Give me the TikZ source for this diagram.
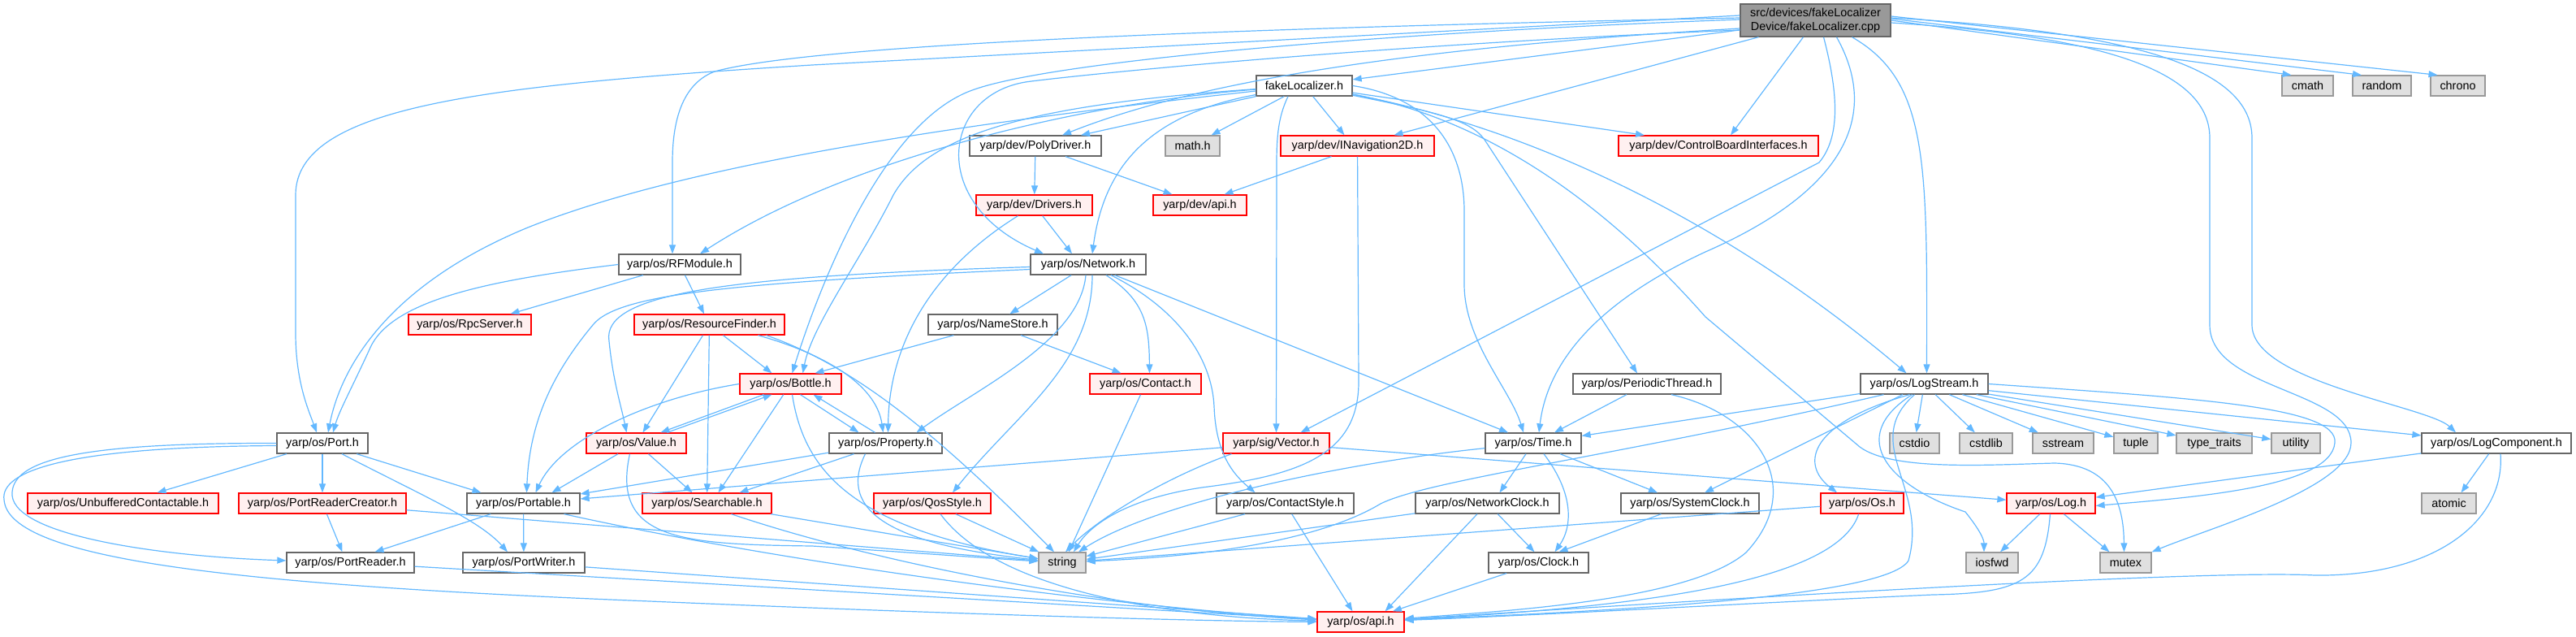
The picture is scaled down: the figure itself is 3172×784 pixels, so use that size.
\documentclass[tikz,border=0pt]{standalone}
\usepackage{fontspec}
\setmainfont{Liberation Sans}
\usepackage{tikz}
\usetikzlibrary{arrows.meta}
\usepackage{xcolor}
\definecolor{edgeblue}{HTML}{63B8FF}
\definecolor{hdrline}{HTML}{666666}
\definecolor{incline}{HTML}{FF0000}
\definecolor{incfill}{HTML}{FFF0F0}
\definecolor{sysline}{HTML}{999999}
\definecolor{sysfill}{HTML}{E0E0E0}
\definecolor{rootfill}{HTML}{999999}

\begin{document}
\begin{tikzpicture}[x=1pt,y=-1pt,>={Triangle[length=11pt,width=8pt]},
  every node/.style={font=\fontsize{14.4}{17}\selectfont,minimum height=25pt,inner sep=0pt},
  hdr/.style={draw=hdrline,fill=white,line width=1.3pt},
  inc/.style={draw=incline,fill=incfill,line width=1.3pt},
  sys/.style={draw=sysline,fill=sysfill,line width=1.3pt},
  root/.style={draw=hdrline,fill=rootfill,line width=1.3pt,align=center,minimum height=40pt},
  dep/.style={->,draw=edgeblue,line width=1.2pt}]
  \useasboundingbox (0,0) rectangle (3172,784);
  \node (cpp) [root,minimum width=185] at (2235.5,25) {src/devices/fakeLocalizer\\Device/fakeLocalizer.cpp};
  \node (fl) [hdr,minimum width=118] at (1606,105.5) {fakeLocalizer.h};
  \node (cmath) [sys,minimum width=63] at (2841.5,105.5) {cmath};
  \node (random) [sys,minimum width=72] at (2933,105.5) {random};
  \node (chrono) [sys,minimum width=67] at (3026.5,105.5) {chrono};
  \node (polydrv) [hdr,minimum width=162] at (1275,179.5) {yarp/dev/PolyDriver.h};
  \node (mathh) [sys,minimum width=67] at (1468.5,179.5) {math.h};
  \node (inav) [inc,minimum width=189] at (1671.5,179.5) {yarp/dev/INavigation2D.h};
  \node (cbi) [inc,minimum width=246] at (2116,179.5) {yarp/dev/ControlBoardInterfaces.h};
  \node (drivers) [inc,minimum width=143] at (1273.5,252.5) {yarp/dev/Drivers.h};
  \node (devapi) [inc,minimum width=115] at (1477.5,252.5) {yarp/dev/api.h};
  \node (rfmod) [hdr,minimum width=150] at (837,325.5) {yarp/os/RFModule.h};
  \node (net) [hdr,minimum width=142] at (1340,325.5) {yarp/os/Network.h};
  \node (rpc) [inc,minimum width=151] at (578.5,399.5) {yarp/os/RpcServer.h};
  \node (rf) [inc,minimum width=185] at (873.5,399.5) {yarp/os/ResourceFinder.h};
  \node (names) [hdr,minimum width=159] at (1222.5,399.5) {yarp/os/NameStore.h};
  \node (bottle) [inc,minimum width=125] at (973.5,472.5) {yarp/os/Bottle.h};
  \node (contact) [inc,minimum width=137] at (1410.5,472.5) {yarp/os/Contact.h};
  \node (pthread) [hdr,minimum width=182] at (2028,472.5) {yarp/os/PeriodicThread.h};
  \node (lstream) [hdr,minimum width=157] at (2369.5,472.5) {yarp/os/LogStream.h};
  \node (port) [hdr,minimum width=112] at (397,545.5) {yarp/os/Port.h};
  \node (value) [inc,minimum width=123] at (783.5,545.5) {yarp/os/Value.h};
  \node (prop) [hdr,minimum width=139] at (1090.5,545.5) {yarp/os/Property.h};
  \node (vector) [inc,minimum width=131] at (1571.5,545.5) {yarp/sig/Vector.h};
  \node (time) [hdr,minimum width=118] at (1888,545.5) {yarp/os/Time.h};
  \node (cstdio) [sys,minimum width=61] at (2357.5,545.5) {cstdio};
  \node (cstdlib) [sys,minimum width=65] at (2445.5,545.5) {cstdlib};
  \node (sstream) [sys,minimum width=75] at (2540.5,545.5) {sstream};
  \node (tuple) [sys,minimum width=54] at (2630,545.5) {tuple};
  \node (traits) [sys,minimum width=93] at (2726.5,545.5) {type\_traits};
  \node (utility) [sys,minimum width=60] at (2827,545.5) {utility};
  \node (logcomp) [hdr,minimum width=184] at (3074,545.5) {yarp/os/LogComponent.h};
  \node (unbuf) [inc,minimum width=235] at (151.5,619.5) {yarp/os/UnbufferedContactable.h};
  \node (prc) [inc,minimum width=206] at (397,619.5) {yarp/os/PortReaderCreator.h};
  \node (portable) [hdr,minimum width=139] at (644.5,619.5) {yarp/os/Portable.h};
  \node (search) [inc,minimum width=159] at (870.5,619.5) {yarp/os/Searchable.h};
  \node (qos) [inc,minimum width=144] at (1148,619.5) {yarp/os/QosStyle.h};
  \node (cstyle) [hdr,minimum width=169] at (1582.5,619.5) {yarp/os/ContactStyle.h};
  \node (nclock) [hdr,minimum width=177] at (1831.5,619.5) {yarp/os/NetworkClock.h};
  \node (sclock) [hdr,minimum width=170] at (2081,619.5) {yarp/os/SystemClock.h};
  \node (os) [inc,minimum width=102] at (2293,619.5) {yarp/os/Os.h};
  \node (log) [inc,minimum width=109] at (2525.5,619.5) {yarp/os/Log.h};
  \node (atomic) [sys,minimum width=67] at (3015.5,619.5) {atomic};
  \node (preader) [hdr,minimum width=157] at (431.5,692.5) {yarp/os/PortReader.h};
  \node (pwriter) [hdr,minimum width=150] at (645,692.5) {yarp/os/PortWriter.h};
  \node (string) [sys,minimum width=58] at (1308,692.5) {string};
  \node (clock) [hdr,minimum width=123] at (1894.5,692.5) {yarp/os/Clock.h};
  \node (iosfwd) [sys,minimum width=64] at (2453,692.5) {iosfwd};
  \node (mutex) [sys,minimum width=63] at (2617.5,692.5) {mutex};
  \node (api) [inc,minimum width=107] at (1675.5,765.5) {yarp/os/api.h};

  \draw[dep] (cpp) -- (fl);
  \draw[dep] (cpp.east) -- ([xshift=-20]cmath.north);
  \draw[dep] ([yshift=2]cpp.east) -- ([xshift=-25]random.north);
  \draw[dep] ([yshift=5]cpp.east) -- ([xshift=-25]chrono.north);
  \draw[dep] ([yshift=-10]cpp.west) .. controls (1800,55) and (1500,90) .. ([xshift=33]polydrv.north);
  \draw[dep] ([xshift=-70]cpp.south) -- ([xshift=45]inav.north);
  \draw[dep] ([xshift=-15]cpp.south) -- ([xshift=15]cbi.north);
  \draw[dep] ([yshift=-12]cpp.west) .. controls (1700,55) and (1350,90) .. (1270,100) .. controls (1160,112) and (1140,250) .. ([xshift=-55]net.north);
  \draw[dep] ([yshift=6]cpp.west) -- (1000,80) .. controls (600,105) and (364,130) .. (364,240) -- (364,410) .. controls (364,470) and (380,505) .. ([xshift=-7]port.north);
  \draw[dep] ([yshift=3]cpp.west) .. controls (1500,35) and (1000,55) .. (880,88) .. controls (835,105) and (828,160) .. (828,200) -- ([xshift=-9]rfmod.north);
  \draw[dep] ([yshift=1]cpp.west) .. controls (1700,40) and (1300,75) .. (1200,110) .. controls (1080,150) and (1000,380) .. ([xshift=2]bottle.north);
  \draw[dep] ([xshift=10]cpp.south) .. controls (2265,120) and (2265,170) .. (2240,200) -- ([xshift=30]vector.north);
  \draw[dep] ([xshift=26]cpp.south) .. controls (2320,150) and (2260,240) .. (2100,310) .. controls (1960,375) and (1905,450) .. ([xshift=7]time.north);
  \draw[dep] ([xshift=45]cpp.south) .. controls (2375,100) and (2373,200) .. ([xshift=3]lstream.north);
  \draw[dep] ([yshift=-3]cpp.east) .. controls (2600,45) and (2721,90) .. (2721,170) -- (2721,400) .. controls (2721,480) and (2895,480) .. (2895,545) .. controls (2895,600) and (2720,650) .. (mutex.north east);
  \draw[dep] ([yshift=3]cpp.east) .. controls (2650,40) and (2773,90) .. (2773,170) -- (2773,400) .. controls (2773,470) and (2990,500) .. ([xshift=-50]logcomp.north);

  \draw[dep] (fl) -- ([xshift=56]polydrv.north);
  \draw[dep] (fl) -- ([xshift=23]mathh.north);
  \draw[dep] (fl) -- ([xshift=-16]inav.north);
  \draw[dep] (fl) -- ([xshift=-91]cbi.north);
  \draw[dep] (fl) .. controls (1350,125) and (1050,190) .. ([xshift=25]rfmod.north);
  \draw[dep] (fl) .. controls (1200,150) and (850,200) .. (650,280) .. controls (480,350) and (420,450) .. ([xshift=7]port.north);
  \draw[dep] (fl) .. controls (1250,130) and (1140,170) .. (1100,240) .. controls (1060,320) and (1000,400) .. ([xshift=15]bottle.north);
  \draw[dep] (fl) .. controls (1420,140) and (1360,200) .. ([xshift=5]net.north);
  \draw[dep] ([xshift=-20]fl.south) .. controls (1576,140) and (1572,160) .. (1572,200) -- (vector);
  \draw[dep] (fl.east) .. controls (1760,120) and (1803,180) .. (1803,260) -- (1803,350) .. controls (1803,420) and (1860,480) .. ([xshift=-12]time.north);
  \draw[dep] (fl) .. controls (1780,140) and (1815,150) .. (1830,175) -- ([xshift=-12]pthread.north);
  \draw[dep] (fl) .. controls (1850,150) and (2100,250) .. ([xshift=-22]lstream.north);
  \draw[dep] (fl) .. controls (1800,140) and (1950,220) .. (2100,390) -- (2290,550) .. controls (2330,580) and (2450,572) .. (2530,570) .. controls (2600,572) and (2615,620) .. ([xshift=-2]mutex.north);

  \draw[dep] (polydrv) -- (drivers);
  \draw[dep] (polydrv) -- ([xshift=-34]devapi.north);
  \draw[dep] ([xshift=-32]inav.south) -- ([xshift=30]devapi.north);
  \draw[dep] (inav) -- (1673,470) .. controls (1673,560) and (1600,585) .. (1480,600) .. controls (1380,615) and (1340,650) .. ([xshift=14]string.north);
  \draw[dep] (drivers) -- ([xshift=-20]net.north);
  \draw[dep] ([xshift=-20]drivers.south) .. controls (1150,330) and (1095,420) .. ([xshift=3]prop.north);

  \draw[dep] (rfmod.west) .. controls (600,345) and (480,370) .. (455,430) .. controls (432,480) and (418,505) .. ([xshift=13]port.north);
  \draw[dep] (rfmod) -- ([xshift=50]rpc.north);
  \draw[dep] (rfmod) -- (rf);

  \draw[dep] (net) -- (names);
  \draw[dep] ([xshift=22]net.south) .. controls (1410,370) and (1415,400) .. ([xshift=5]contact.north);
  \draw[dep] (net) -- ([xshift=-31]time.north);
  \draw[dep] ([xshift=-3]net.south) .. controls (1330,420) and (1200,480) .. ([xshift=38]prop.north);
  \draw[dep] ([xshift=5]net.south) .. controls (1345,450) and (1250,510) .. ([xshift=25]qos.north);
  \draw[dep] ([xshift=28]net.south) .. controls (1450,380) and (1492,440) .. (1495,500) .. controls (1497,560) and (1520,585) .. ([xshift=-37]cstyle.north);
  \draw[dep] ([yshift=-3]net.west) .. controls (900,340) and (740,360) .. (750,420) .. controls (755,470) and (765,500) .. ([xshift=-12]value.north);
  \draw[dep] ([yshift=-6]net.west) .. controls (900,348) and (760,362) .. (730,400) .. controls (680,460) and (652,520) .. ([xshift=4]portable.north);

  \draw[dep] (rf) -- ([xshift=-23]bottle.north);
  \draw[dep] ([xshift=-8]rf.south) -- ([xshift=8]value.north);
  \draw[dep] (rf) -- (search);
  \draw[dep] ([xshift=60]rf.south) .. controls (1030,440) and (1080,480) .. ([xshift=-3]prop.north);
  \draw[dep] ([xshift=70]rf.south) .. controls (1050,450) and (1150,530) .. ([xshift=-10]string.north);
  \draw[dep] (names) -- ([xshift=30]bottle.north);
  \draw[dep] (names) -- ([xshift=-30]contact.north);
  \draw[dep] (contact) -- ([xshift=8]string.north);

  \draw[dep] ([xshift=-33]bottle.south) -- ([xshift=30]value.north);
  \draw[dep] ([xshift=38]value.north) -- ([xshift=-23]bottle.south);
  \draw[dep] ([xshift=12]bottle.south) -- ([xshift=-33]prop.north);
  \draw[dep] ([xshift=-13]prop.north) -- ([xshift=28]bottle.south);
  \draw[dep] (bottle) -- ([xshift=14]search.north);
  \draw[dep] (bottle) .. controls (990,580) and (1050,650) .. (string);
  \draw[dep] (bottle.west) .. controls (800,490) and (690,540) .. ([xshift=15]portable.north);
  \draw[dep] (value) -- ([xshift=35]portable.north);
  \draw[dep] (value) -- ([xshift=-18]search.north);
  \draw[dep] ([xshift=-8]value.south) .. controls (752,665) and (840,670) .. (1000,672) .. controls (1150,682) and (1230,688) .. (string);
  \draw[dep] (prop) -- ([xshift=40]search.north);
  \draw[dep] (prop) -- (portable);
  \draw[dep] ([xshift=-25]prop.south) .. controls (1030,630) and (1100,670) .. (string);

  \draw[dep] (vector) -- (portable);
  \draw[dep] ([xshift=-55]vector.south) .. controls (1430,590) and (1350,640) .. ([xshift=4]string.north);
  \draw[dep] (vector) -- (log);
  \draw[dep] (time) -- ([xshift=15]nclock.north);
  \draw[dep] (time) -- ([xshift=-40]sclock.north);
  \draw[dep] ([xshift=13]time.south) .. controls (1940,610) and (1935,650) .. ([xshift=20]clock.north);
  \draw[dep] (time) .. controls (1650,570) and (1420,620) .. ([xshift=20]string.north);
  \draw[dep] (pthread) -- ([xshift=26]time.north);
  \draw[dep] ([xshift=30]pthread.south) .. controls (2165,510) and (2225,600) .. (2150,680) .. controls (2080,740) and (1850,752) .. (api);

  \draw[dep] (lstream) -- (time);
  \draw[dep] (lstream) -- ([xshift=18]sclock.north);
  \draw[dep] ([xshift=-18]lstream.south) .. controls (2230,520) and (2215,570) .. ([xshift=-31]os.north);
  \draw[dep] ([xshift=-15]lstream.south) .. controls (2270,540) and (2330,600) .. (2420,630) .. controls (2440,655) and (2443,665) .. ([xshift=-10]iosfwd.north);
  \draw[dep] ([xshift=-12]lstream.south) .. controls (2290,545) and (2375,600) .. (2350,690) .. controls (2320,740) and (1900,755) .. (api);
  \draw[dep] ([xshift=-50]lstream.south) .. controls (2000,560) and (1760,590) .. (1700,620) .. controls (1600,680) and (1400,688) .. (string);
  \draw[dep] (lstream.east) .. controls (2700,490) and (2880,500) .. (2875,545) .. controls (2870,600) and (2700,612) .. ([yshift=-3]log.east);
  \draw[dep] (lstream) -- (cstdio);
  \draw[dep] (lstream) -- (cstdlib);
  \draw[dep] (lstream) -- (sstream);
  \draw[dep] (lstream) -- (tuple);
  \draw[dep] (lstream) -- (traits);
  \draw[dep] (lstream) -- (utility);
  \draw[dep] (lstream) -- (logcomp);

  \draw[dep] (logcomp) -- (log);
  \draw[dep] (logcomp) -- ([xshift=15]atomic.north);
  \draw[dep] ([xshift=5]logcomp.south) .. controls (3085,640) and (3000,710) .. (2850,708) .. controls (2700,700) and (2000,745) .. (api);
  \draw[dep] (log) -- ([xshift=10]iosfwd.north);
  \draw[dep] (log) -- ([xshift=-20]mutex.north);
  \draw[dep] (log) .. controls (2518,715) and (2490,730) .. (2380,732) .. controls (2200,740) and (1900,757) .. (api);
  \draw[dep] (os) -- (string);
  \draw[dep] (os) .. controls (2260,720) and (2000,748) .. (api);
  \draw[dep] (sclock) -- ([xshift=25]clock.north);
  \draw[dep] (nclock) -- ([xshift=-5]clock.north);
  \draw[dep] (nclock) -- ([xshift=30]api.north);
  \draw[dep] (nclock) -- (string);
  \draw[dep] (clock) -- (api);
  \draw[dep] (cstyle) -- (string);
  \draw[dep] (cstyle) -- ([xshift=-10]api.north);
  \draw[dep] (qos) -- (string);
  \draw[dep] ([xshift=10]qos.south) .. controls (1230,730) and (1450,760) .. (api);
  \draw[dep] (search) -- (string);
  \draw[dep] ([xshift=30]search.south) .. controls (1100,700) and (1400,752) .. (api);

  \draw[dep] (port) -- ([xshift=42]unbuf.north);
  \draw[dep] (port) -- (prc);
  \draw[dep] (port) -- ([xshift=-52]portable.north);
  \draw[dep] ([xshift=24]port.south) .. controls (520,610) and (590,640) .. ([xshift=-20]pwriter.north);
  \draw[dep] (port.west) .. controls (100,545) and (12,565) .. (15,610) .. controls (20,660) and (200,685) .. (preader);
  \draw[dep] ([yshift=-3]port.west) .. controls (80,550) and (0,580) .. (5,615) .. controls (10,690) and (300,720) .. (800,740) .. controls (1200,757) and (1500,765) .. (api);
  \draw[dep] (prc) -- ([xshift=-10]preader.north);
  \draw[dep] (prc) -- (string);
  \draw[dep] (portable) -- ([xshift=30]preader.north);
  \draw[dep] (portable) -- (pwriter);
  \draw[dep] ([xshift=50]portable.south) .. controls (1000,700) and (1400,748) .. (api);
  \draw[dep] (preader) -- (api);
  \draw[dep] (pwriter) -- (api);
\end{tikzpicture}
\end{document}
